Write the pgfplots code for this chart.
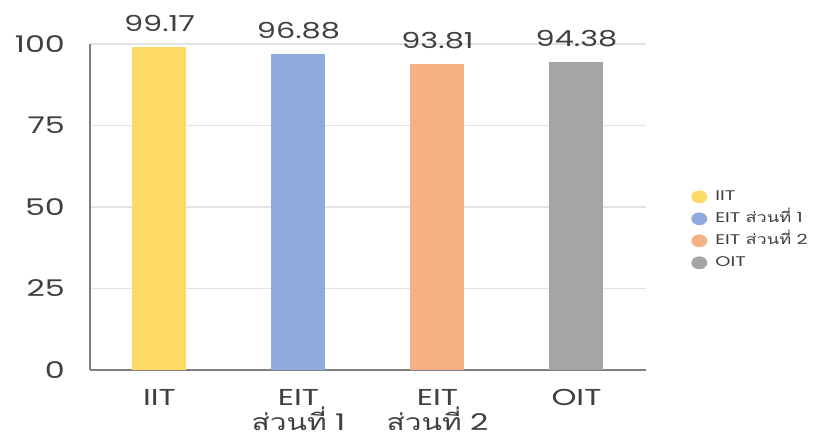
\documentclass[border=0pt]{standalone}
\usepackage{pgfplots}
\pgfplotsset{compat=1.18}
\usepackage{fontspec}
\setmainfont[FakeStretch=1.38]{Poppins}
\newfontfamily\thaifont[Script=Thai, FakeStretch=1.3]{Loma}
\definecolor{cIIT}{HTML}{FFD966}
\definecolor{cEIT1}{HTML}{8FAADC}
\definecolor{cEIT2}{HTML}{F4B183}
\definecolor{cOIT}{HTML}{A5A5A5}
\definecolor{txt}{HTML}{404040}
\definecolor{gridc}{HTML}{E3E3E3}
\definecolor{axc}{HTML}{7F7F7F}
\begin{document}
\begin{tikzpicture}
\begin{axis}[
  scale only axis, width=278pt, height=163pt,
  at={(0,0)}, anchor=south west,
  xmin=-0.5, xmax=3.5, ymin=0, ymax=100,
  axis lines=left, axis line style={-, axc, line width=0.8pt},
  ymajorgrids, grid style={gridc, line width=0.6pt},
  ytick={0,25,50,75,100},
  xtick={0,1,2,3},
  xticklabels={IIT,{EIT\\{\thaifont ส่วนที่} 1},{EIT\\{\thaifont ส่วนที่} 2},OIT},
  major tick length=0pt,
  /pgf/number format/assume math mode=true,
  yticklabel style={font=\fontsize{11.5}{12}\selectfont, text=txt, xshift=-9pt},
  xticklabel style={font=\fontsize{11.5}{12.5}\selectfont, text=txt, align=center, yshift=-6pt},
  ybar, bar width=27pt,
  nodes near coords,
  nodes near coords style={font=\fontsize{11}{12}\selectfont, text=txt, /pgf/number format/fixed, /pgf/number format/fixed zerofill, /pgf/number format/precision=2, yshift=4pt},
  legend style={at={(1.07,0.43)}, anchor=west, draw=none, fill=none,
    font=\fontsize{7}{8}\selectfont, text=txt, row sep=1pt,
    nodes={text height=6pt, text depth=2pt, inner sep=1pt}},
  legend cell align=left,
  legend image code/.code={\fill[#1] (0,0) ellipse (4pt and 3.2pt); \path (7pt,0);},
]
\addplot[draw=none, fill=cIIT, bar shift=0pt] coordinates {(0,99.17)};
\addlegendentry{IIT}
\addplot[draw=none, fill=cEIT1, bar shift=0pt] coordinates {(1,96.88)};
\addlegendentry{EIT {\thaifont ส่วนที่} 1}
\addplot[draw=none, fill=cEIT2, bar shift=0pt] coordinates {(2,93.81)};
\addlegendentry{EIT {\thaifont ส่วนที่} 2}
\addplot[draw=none, fill=cOIT, bar shift=0pt] coordinates {(3,94.38)};
\addlegendentry{OIT}
\end{axis}
\pgfresetboundingbox
\path (-45pt,-34.5pt) rectangle (368pt,185pt);
\end{tikzpicture}
\end{document}
